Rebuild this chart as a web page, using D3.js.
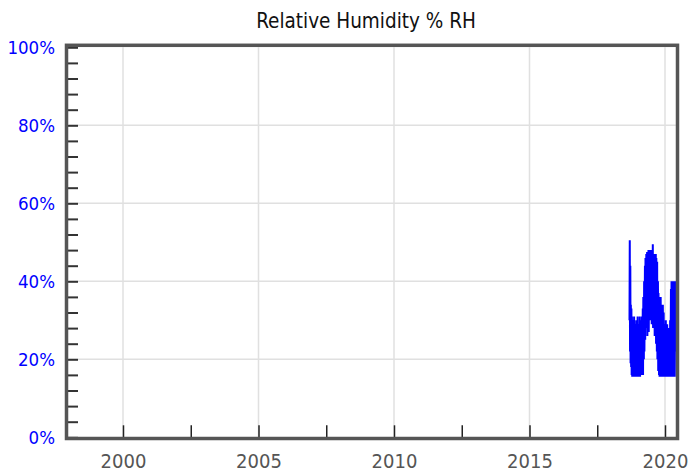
<!DOCTYPE html>
<html>
<head>
<meta charset="utf-8">
<script src="https://cdn.jsdelivr.net/npm/d3@7"></script>
<style>
  html, body { margin: 0; padding: 0; background: #fff; }
  svg { display: block; }
</style>
</head>
<body>
<svg id="chart" width="700" height="475"></svg>
<script>
// ---- data (decimal year, % RH) ----
const years = [
  2018.69, 2018.70, 2018.71, 2018.72, 2018.73, 2018.74, 2018.75, 2018.76, 2018.77, 2018.78,
  2018.79, 2018.80, 2018.82, 2018.83, 2018.84, 2018.86, 2018.87, 2018.88, 2018.90, 2018.91,
  2018.92, 2018.94, 2018.95, 2018.96, 2018.98, 2018.99, 2019.00, 2019.02, 2019.03, 2019.04,
  2019.06, 2019.07, 2019.08, 2019.10, 2019.11, 2019.12, 2019.14, 2019.15, 2019.16, 2019.18,
  2019.19, 2019.20, 2019.22, 2019.23, 2019.24, 2019.26, 2019.27, 2019.28, 2019.30, 2019.31,
  2019.32, 2019.34, 2019.35, 2019.36, 2019.38, 2019.39, 2019.40, 2019.42, 2019.43, 2019.44,
  2019.46, 2019.47, 2019.48, 2019.50, 2019.51, 2019.52, 2019.54, 2019.55, 2019.56, 2019.58,
  2019.59, 2019.60, 2019.62, 2019.63, 2019.64, 2019.66, 2019.67, 2019.68, 2019.70, 2019.71,
  2019.72, 2019.74, 2019.75, 2019.76, 2019.78, 2019.79, 2019.80, 2019.82, 2019.83, 2019.84,
  2019.86, 2019.87, 2019.88, 2019.90, 2019.91, 2019.92, 2019.94, 2019.95, 2019.96, 2019.98,
  2019.99, 2020.00, 2020.02, 2020.03, 2020.04, 2020.06, 2020.07, 2020.08, 2020.10, 2020.11,
  2020.12, 2020.14, 2020.15, 2020.16, 2020.18, 2020.19, 2020.20, 2020.22, 2020.23, 2020.24,
  2020.26, 2020.27, 2020.28, 2020.30, 2020.31, 2020.32, 2020.34, 2020.35, 2020.36, 2020.38,
  2020.39, 2020.40
];
const rh = [
  30, 50.5, 22, 44, 19, 34, 18, 33, 16, 31,
  15.5, 30, 15.5, 28, 15.5, 31, 16, 26, 15.5, 29,
  15.5, 30, 17, 28, 15.5, 31, 15.5, 29, 15.5, 27,
  18, 31, 15.5, 30, 20, 29, 16, 31, 19, 33,
  16, 36, 20, 40, 22, 44, 25, 46, 28, 47,
  30, 47.5, 26, 46, 32, 48, 27, 47, 34, 48,
  30, 47, 35, 48, 29, 47, 33, 49.5, 28, 47,
  31, 47, 26, 46, 29, 47, 24, 46, 22, 45,
  20, 40, 17, 37, 16, 36, 15.5, 35, 17, 36,
  15.5, 34, 15.5, 33, 16, 34, 15.5, 32, 15.5, 29,
  15.5, 28, 15.5, 30, 15.5, 27, 16, 29, 15.5, 26,
  15.5, 28, 17, 27, 15.5, 30, 15.5, 38, 16, 40,
  15.5, 39, 18, 40, 15.5, 40, 20, 39, 15.5, 40,
  22, 38
];
const xMajorTicks = [2000, 2005, 2010, 2015, 2020];
const xMinorTicks = [2000, 2002.5, 2005, 2007.5, 2010, 2012.5, 2015, 2017.5, 2020];
const yMajorTicks = [0, 20, 40, 60, 80, 100];
const yLabels = ["0%", "20%", "40%", "60%", "80%", "100%"];
const yMinorTicks = [0,4,8,12,16,20,24,28,32,36,40,44,48,52,56,60,64,68,72,76,80,84,88,92,96,100];
const titleText = "Relative Humidity % RH";

// ---- drawing ----
const svg = d3.select("#chart");
const FONT = "'DejaVu Sans Condensed', 'DejaVu Sans', sans-serif";

const x = d3.scaleLinear().domain([1998, 2020.4]).range([68.8, 675.84]);
const y = d3.scaleLinear().domain([0, 100]).range([437.3, 47.3]);

// title
svg.append("text")
  .attr("x", 366).attr("y", 28)
  .attr("text-anchor", "middle")
  .attr("font-family", FONT)
  .attr("font-size", 20.5)
  .attr("fill", "#111")
  .text(titleText);

// grid
const grid = svg.append("g");
grid.selectAll("line.vg").data(xMajorTicks).join("line")
  .attr("x1", d => x(d)).attr("x2", d => x(d))
  .attr("y1", y(100)).attr("y2", y(0))
  .attr("stroke", "#e0e0e0").attr("stroke-width", 1.5);
grid.selectAll("line.hg").data(yMajorTicks.filter(d => d > 0 && d < 100)).join("line")
  .attr("x1", x.range()[0]).attr("x2", x.range()[1])
  .attr("y1", d => y(d)).attr("y2", d => y(d))
  .attr("stroke", "#e0e0e0").attr("stroke-width", 1.5);

// data line
svg.append("clipPath").attr("id", "clip").append("rect")
  .attr("x", 67).attr("y", 46).attr("width", 610).attr("height", 392);
const pts = years.map((t, i) => [t, rh[i]]);
svg.append("path")
  .datum(pts)
  .attr("clip-path", "url(#clip)")
  .attr("fill", "none")
  .attr("stroke", "#0000ff")
  .attr("stroke-width", 2)
  .attr("stroke-linejoin", "miter")
  .attr("d", d3.line().x(d => x(d[0])).y(d => y(d[1])));

// y axis (ticks inside)
const yAxis = d3.axisLeft(y)
  .tickValues(yMinorTicks)
  .tickSize(-11)
  .tickPadding(12)
  .tickFormat(d => { const i = yMajorTicks.indexOf(d); return i >= 0 ? yLabels[i] : ""; });
const gy = svg.append("g").attr("transform", "translate(67,0)").call(yAxis);
gy.select(".domain").remove();
gy.selectAll(".tick line").attr("stroke", "#333").attr("stroke-width", 2);
gy.selectAll(".tick text")
  .attr("font-family", FONT).attr("font-size", 18.5).attr("fill", "#0000ff");

// x axis (ticks inside)
const xAxis = d3.axisBottom(x)
  .tickValues(xMinorTicks)
  .tickSize(-12)
  .tickPadding(17)
  .tickFormat(d => xMajorTicks.includes(d) ? String(d) : "");
const gx = svg.append("g").attr("transform", "translate(0,437.3)").call(xAxis);
gx.select(".domain").remove();
gx.selectAll(".tick line").attr("stroke", "#222").attr("stroke-width", 1.5);
gx.selectAll(".tick text")
  .attr("font-family", FONT).attr("font-size", 20).attr("fill", "#555");

// frame
svg.append("rect")
  .attr("x", 66.5).attr("y", 45.3)
  .attr("width", 611).attr("height", 393.2)
  .attr("fill", "none")
  .attr("stroke", "#555").attr("stroke-width", 3.5);
</script>
</body>
</html>
